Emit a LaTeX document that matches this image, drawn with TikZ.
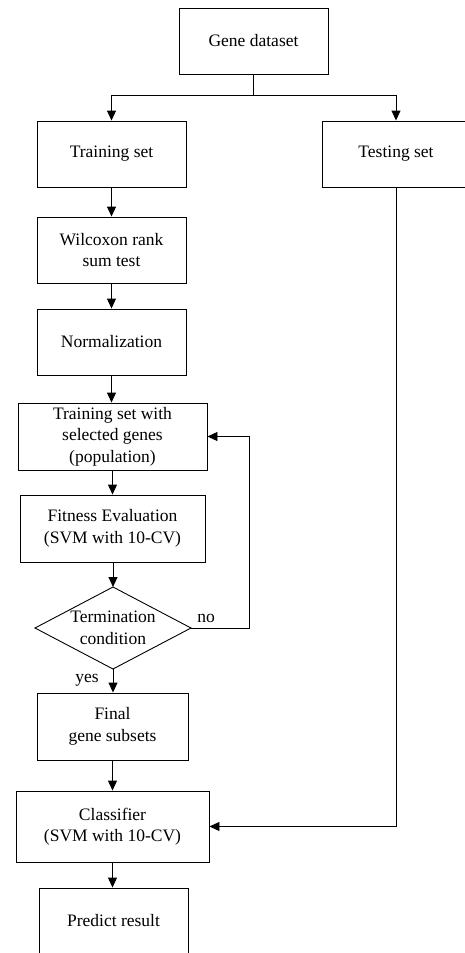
\documentclass[tikz,border=0pt]{standalone}
\usepackage{fontspec}
\setmainfont{Liberation Serif}
\usetikzlibrary{arrows.meta}
\begin{document}
\begin{tikzpicture}[x=1pt,y=-1pt,
  every node/.style={font=\fontsize{17.5}{21.5}\selectfont, align=center, inner sep=0pt},
  box/.style={draw, line width=0.9pt, minimum width=#1, minimum height=66pt},
  conn/.style={line width=0.9pt, -{Triangle[width=9pt,length=10pt]}},
  plain/.style={line width=0.9pt}]
\useasboundingbox (0,0) rectangle (465,953);
\node[box=149pt] (gene) at (253.5,41) {Gene dataset};
\node[box=149pt] (train) at (111.5,154) {Training set};
\node[box=148pt] (test) at (396,154) {Testing set};
\node[box=149pt] (wil) at (111.5,250) {Wilcoxon rank\\sum test};
\node[box=149pt] (norm) at (111.5,342) {Normalization};
\node[box=189pt, minimum height=67pt] (pop) at (112.5,436.5) {Training set with\\selected genes\\(population)};
\node[box=185pt, minimum height=67pt] (fit) at (112.5,528.5) {Fitness Evaluation\\(SVM with 10-CV)};
\node (dia) at (113,628) {Termination\\condition};
\draw[plain] (35,628) coordinate (diaW) -- (113,587) coordinate (diaN) -- (191,628) coordinate (diaE) -- (113,669) coordinate (diaS) -- cycle;
\node[box=151pt, minimum height=67pt] (final) at (112.5,726.5) {Final\\gene subsets};
\node[box=193pt, minimum height=71pt] (cls) at (112.5,826.5) {Classifier\\(SVM with 10-CV)};
\node[box=149pt] (pred) at (113.5,921) {Predict result};
\node (no) at (206,618) {no};
\node (yes) at (87,680) {yes};
% connectors
\coordinate (split) at (253.5,95);
\draw[plain] (gene.south) -- (split);
\draw[conn] (split) -| (train.north);
\draw[conn] (split) -| (test.north);
\draw[conn] (train) -- (wil);
\draw[conn] (wil) -- (norm);
\draw[conn] (norm.south) -- (norm.south |- pop.north);
\draw[conn] (pop.south) -- (pop.south |- fit.north);
\draw[conn] (fit.south) -- (fit.south -| diaN) -- (diaN);
\draw[conn] (diaS) -- (diaS |- final.north);
\draw[conn] (final.south) -- (final.south |- cls.north);
\draw[conn] (cls.south) -- (cls.south |- pred.north);
\draw[conn] (diaE) -- (249,628) |- (pop.east);
\draw[conn] (test.south) |- (cls.east);
\end{tikzpicture}
\end{document}
